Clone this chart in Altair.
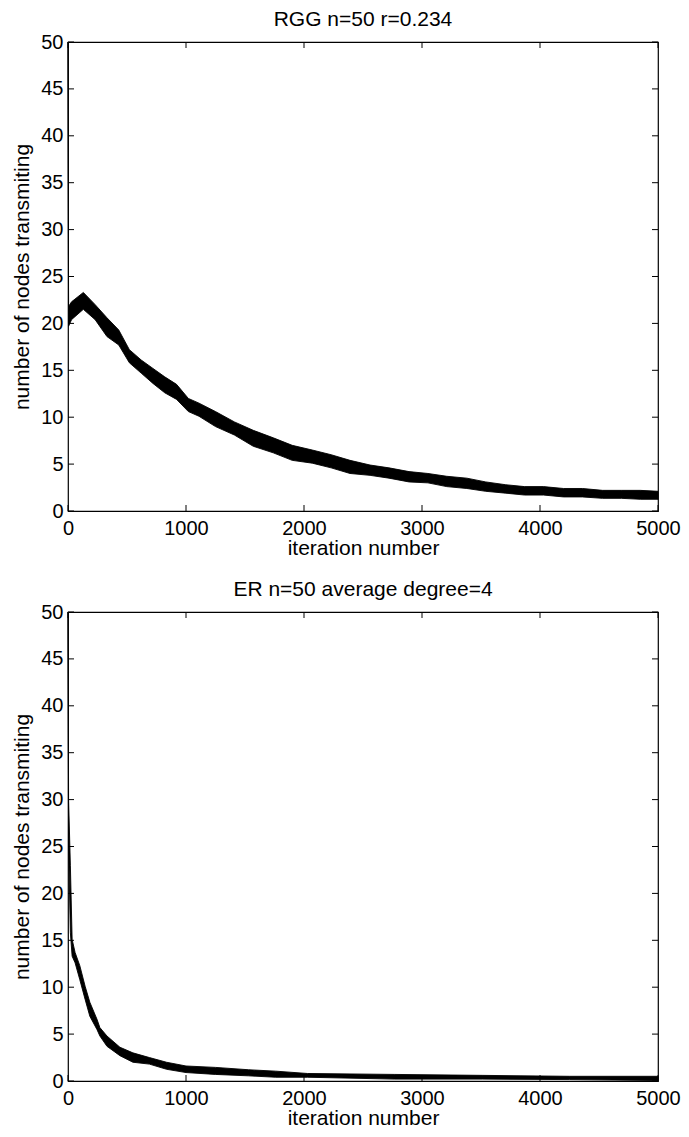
import altair as alt
import pandas as pd

# ---- data (band envelope: upper / lower edge of the noisy trace)
rgg_iter = [0, 5, 30, 130, 230, 330, 430, 520, 620, 720, 820, 920, 1020, 1110, 1250, 1410,
            1570, 1740, 1900, 2070, 2230, 2390, 2560, 2720, 2890, 3050, 3210, 3380, 3540,
            3710, 3870, 4030, 4200, 4360, 4530, 4690, 4850, 5000]
rgg_hi = [50, 21.8, 22.3, 23.3, 22.0, 20.6, 19.3, 17.2, 16.1, 15.2, 14.3, 13.5, 12.0, 11.5,
          10.6, 9.5, 8.6, 7.8, 7.0, 6.5, 6.0, 5.4, 4.9, 4.6, 4.2, 4.0, 3.7, 3.5, 3.1, 2.8,
          2.6, 2.6, 2.4, 2.4, 2.2, 2.2, 2.2, 2.1]
rgg_lo = [50, 19.7, 20.4, 21.5, 20.4, 18.6, 17.7, 15.8, 14.7, 13.6, 12.6, 11.9, 10.6, 10.1,
          9.0, 8.1, 6.9, 6.2, 5.4, 5.1, 4.6, 4.0, 3.8, 3.5, 3.1, 3.0, 2.6, 2.4, 2.1, 1.9,
          1.7, 1.7, 1.5, 1.5, 1.35, 1.35, 1.25, 1.25]

er_iter = [0, 5, 20, 35, 60, 100, 145, 185, 245, 270, 330, 440, 550, 690, 835, 1000, 1250,
           1530, 1760, 2030, 2770, 3510, 4250, 5000]
er_hi = [50, 30, 23, 15.1, 13.7, 12.3, 10.1, 8.4, 6.6, 5.7, 4.8, 3.6, 3.0, 2.5, 2.0, 1.6,
         1.45, 1.2, 1.05, 0.8, 0.7, 0.6, 0.5, 0.5]
er_lo = [50, 25, 15.8, 13.3, 12.6, 10.8, 8.7, 6.9, 5.5, 4.8, 3.7, 2.7, 2.0, 1.8, 1.25, 0.9,
         0.7, 0.55, 0.4, 0.4, 0.2, 0.2, 0.15, 0.05]

x_ticks = [0, 1000, 2000, 3000, 4000, 5000]
y_ticks = [0, 5, 10, 15, 20, 25, 30, 35, 40, 45, 50]

titles = ["RGG n=50 r=0.234", "ER n=50 average degree=4"]
x_title = "iteration number"
y_title = "number of nodes transmiting"

W, H = 590, 469
FONT = "Liberation Sans"
TICK = 6


def panel(iters, lo, hi, title):
    df = pd.DataFrame({"iter": iters, "lo": lo, "hi": hi})
    xs = alt.Scale(domain=[0, 5000], nice=False, zero=False)
    ys = alt.Scale(domain=[0, 50], nice=False)
    xax = alt.Axis(values=x_ticks, format="d", ticks=False, domain=False, grid=False,
                   labelPadding=7, labelFontSize=20, labelFont=FONT, labelColor="black",
                   labelFlush=False, title=x_title, titleFont=FONT, titleFontSize=21,
                   titleFontWeight="normal", titleColor="black", titleBaseline="bottom",
                   titleY=47, titleX=W / 2, titleAlign="center")
    yax = alt.Axis(values=y_ticks, ticks=False, domain=False, grid=False,
                   labelPadding=5, labelFontSize=20, labelFont=FONT, labelColor="black",
                   labelFlush=False, title=y_title, titleFont=FONT, titleFontSize=21,
                   titleFontWeight="normal", titleColor="black", titleBaseline="alphabetic",
                   titleX=-40, titleY=H / 2, titleAlign="center", titleAngle=270)
    band = alt.Chart(df).mark_area(color="black", stroke="black", strokeWidth=0.9,
                                   opacity=1, interpolate="linear").encode(
        x=alt.X("iter:Q", scale=xs, axis=xax),
        y=alt.Y("lo:Q", scale=ys, axis=yax),
        y2="hi:Q",
    )
    xt = pd.DataFrame({"t": x_ticks})
    yt = pd.DataFrame({"t": y_ticks})
    bot = alt.Chart(xt).mark_rule(color="black", strokeWidth=1).encode(
        x=alt.X("t:Q", scale=xs, axis=xax), y=alt.value(H), y2=alt.value(H - TICK))
    topt = alt.Chart(xt).mark_rule(color="black", strokeWidth=1).encode(
        x=alt.X("t:Q", scale=xs, axis=xax), y=alt.value(0), y2=alt.value(TICK))
    left = alt.Chart(yt).mark_rule(color="black", strokeWidth=1).encode(
        y=alt.Y("t:Q", scale=ys, axis=yax), x=alt.value(0), x2=alt.value(TICK))
    right = alt.Chart(yt).mark_rule(color="black", strokeWidth=1).encode(
        y=alt.Y("t:Q", scale=ys, axis=yax), x=alt.value(W), x2=alt.value(W - TICK))
    ttl = alt.Chart(pd.DataFrame({"label": [title]})).mark_text(
        font=FONT, fontSize=21, color="black", baseline="top", align="center"
    ).encode(text="label:N", x=alt.value(W / 2), y=alt.value(-33))
    return alt.layer(band, bot, topt, left, right, ttl).properties(width=W, height=H)


p1 = panel(rgg_iter, rgg_lo, rgg_hi, titles[0])
p2 = panel(er_iter, er_lo, er_hi, titles[1])

chart = alt.vconcat(p1, p2, spacing=101, bounds="flush").configure_view(
    stroke="black", strokeWidth=1.2
).properties(
    background="white",
    padding={"top": 0, "left": 2, "right": 0, "bottom": 0},
)

chart.save("out.html", embed_options={"renderer": "svg", "actions": False})
